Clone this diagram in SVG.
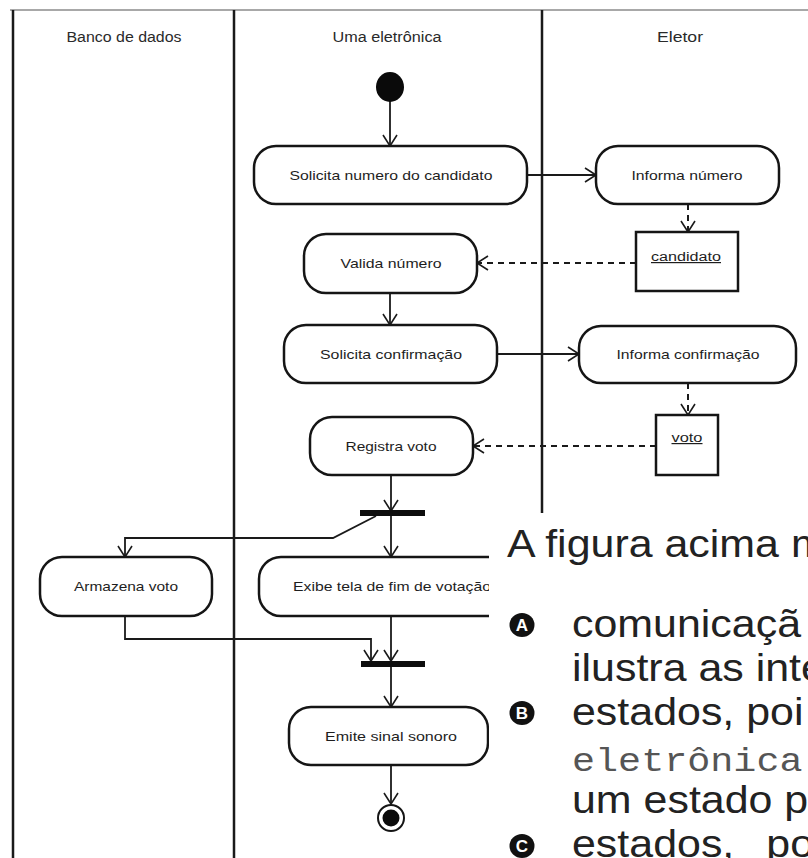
<svg xmlns="http://www.w3.org/2000/svg" width="808" height="858" viewBox="0 0 808 858">
<style>
.lane{stroke:#1a1a1a;stroke-width:2.5;fill:none}
.hdr{font-family:"Liberation Sans",Arial,sans-serif;font-size:14px;fill:#2a2a2a;text-anchor:middle;lengthAdjust:spacingAndGlyphs}
.box{fill:#fff;stroke:#151515;stroke-width:2.5}
.lbl{font-family:"Liberation Sans",Arial,sans-serif;font-size:13px;fill:#1e1e1e;text-anchor:middle}
.obj{font-family:"Liberation Sans",Arial,sans-serif;font-size:12px;fill:#1e1e1e;text-anchor:middle;text-decoration:underline}
.ln{fill:none;stroke:#1a1a1a;stroke-width:1.8;marker-end:url(#arr)}
.dash{fill:none;stroke:#1a1a1a;stroke-width:2;stroke-dasharray:6 5;marker-end:url(#arr)}
.bar{fill:#0d0d0d}
.q{font-family:"Liberation Sans",Arial,sans-serif;font-size:38px;fill:#222}
.mono{font-family:"Liberation Mono","Courier New",monospace;font-size:34px;fill:#555}
.bul{fill:#111}
.bl{font-family:"Liberation Sans",Arial,sans-serif;font-weight:bold;font-size:17px;fill:#fff;text-anchor:middle}
</style>
<defs>
<marker id="arr" markerUnits="userSpaceOnUse" markerWidth="14" markerHeight="16" refX="12" refY="8" orient="auto">
<path d="M1,1 L12,8 L1,15" fill="none" stroke="#1a1a1a" stroke-width="1.6"/>
</marker>
</defs>
<rect width="808" height="858" fill="#fff"/>
<g id="swimlanes">
<line x1="10" y1="10" x2="808" y2="10" stroke="#a8a8a8" stroke-width="2"/>
<line class="lane" x1="13" y1="10" x2="13" y2="858"/>
<line class="lane" x1="234" y1="10" x2="234" y2="858"/>
<line class="lane" x1="542" y1="10" x2="542" y2="513" stroke-width="3"/>
<text class="hdr" x="124" y="42" textLength="115" lengthAdjust="spacingAndGlyphs">Banco de dados</text>
<text class="hdr" x="387" y="42" textLength="109" lengthAdjust="spacingAndGlyphs">Uma eletrônica</text>
<text class="hdr" x="680" y="42" textLength="46" lengthAdjust="spacingAndGlyphs">Eletor</text>
</g>
<g id="connectors">
<line class="ln" x1="390" y1="101" x2="390" y2="146"/>
<line class="ln" x1="527" y1="175" x2="596" y2="175"/>
<line class="dash" x1="688" y1="204" x2="688" y2="232"/>
<line class="dash" x1="636" y1="263" x2="477" y2="263"/>
<line class="ln" x1="390" y1="293" x2="390" y2="325"/>
<line class="ln" x1="497" y1="354" x2="579" y2="354" stroke-width="2.6"/>
<line class="dash" x1="688" y1="383" x2="688" y2="415"/>
<line class="dash" x1="656" y1="446" x2="473" y2="446"/>
<line class="ln" x1="391" y1="475" x2="391" y2="511"/>
<line class="ln" x1="391" y1="516" x2="391" y2="557"/>
<polyline class="ln" points="376,516 333,538 125,538 125,557"/>
<line class="ln" x1="391" y1="616" x2="391" y2="661"/>
<polyline class="ln" points="125,616 125,639 371,639 371,661"/>
<line class="ln" x1="391" y1="667" x2="391" y2="707"/>
<line class="ln" x1="391" y1="765" x2="391" y2="804"/>
</g>
<g id="start"><ellipse cx="390" cy="87" rx="14" ry="15" fill="#0a0a0a"/></g>
<g id="n-solicita-numero">
<rect class="box" x="254" y="146" width="273" height="58" rx="22"/>
<text class="lbl" x="391" y="180" textLength="203" lengthAdjust="spacingAndGlyphs">Solicita numero do candidato</text>
</g>
<g id="n-informa-numero">
<rect class="box" x="596" y="146" width="183" height="58" rx="22"/>
<text class="lbl" x="687" y="180" textLength="111" lengthAdjust="spacingAndGlyphs">Informa número</text>
</g>
<g id="o-candidato">
<rect class="box" x="636" y="232" width="102" height="59" rx="0"/>
<text class="obj" x="686" y="261" textLength="70" lengthAdjust="spacingAndGlyphs">candidato</text>
</g>
<g id="n-valida">
<rect class="box" x="304" y="234" width="173" height="59" rx="22"/>
<text class="lbl" x="391" y="268" textLength="101" lengthAdjust="spacingAndGlyphs">Valida número</text>
</g>
<g id="n-solicita-confirmacao">
<rect class="box" x="284" y="325" width="213" height="58" rx="22"/>
<text class="lbl" x="391" y="359" textLength="142" lengthAdjust="spacingAndGlyphs">Solicita confirmação</text>
</g>
<g id="n-informa-confirmacao">
<rect class="box" x="579" y="326" width="217" height="57" rx="22"/>
<text class="lbl" x="688" y="359" textLength="143" lengthAdjust="spacingAndGlyphs">Informa confirmação</text>
</g>
<g id="o-voto">
<rect class="box" x="656" y="415" width="62" height="60" rx="0"/>
<text class="obj" x="687" y="442" textLength="31" lengthAdjust="spacingAndGlyphs">voto</text>
</g>
<g id="n-registra">
<rect class="box" x="310" y="417" width="163" height="58" rx="22"/>
<text class="lbl" x="391" y="451" textLength="91" lengthAdjust="spacingAndGlyphs">Registra voto</text>
</g>
<g id="fork"><rect class="bar" x="360" y="510" width="65" height="6"/></g>
<g id="n-armazena">
<rect class="box" x="40" y="557" width="172" height="59" rx="22"/>
<text class="lbl" x="126" y="591" textLength="104" lengthAdjust="spacingAndGlyphs">Armazena voto</text>
</g>
<g id="n-exibe">
<rect class="box" x="259" y="557" width="264" height="59" rx="22"/>
<text class="lbl" x="392" y="591" textLength="198" lengthAdjust="spacingAndGlyphs">Exibe tela de fim de votação</text>
</g>
<g id="join"><rect class="bar" x="361" y="661" width="64" height="6"/></g>
<g id="n-emite">
<rect class="box" x="289" y="707" width="199" height="58" rx="22"/>
<text class="lbl" x="391" y="741" textLength="132" lengthAdjust="spacingAndGlyphs">Emite sinal sonoro</text>
</g>
<g id="end">
<circle cx="391" cy="818" r="13" fill="#fff" stroke="#151515" stroke-width="2"/>
<circle cx="391" cy="818" r="8.5" fill="#0a0a0a"/>
</g>
<g id="question">
<rect x="489" y="513" width="319" height="345" fill="#fff"/>
<text class="q" transform="translate(507,557) scale(1.13,1)">A figura acima m</text>
<ellipse class="bul" cx="522" cy="625" rx="12.5" ry="12"/>
<text class="bl" x="522" y="631">A</text>
<text class="q" transform="translate(572,637) scale(1.13,1)">comunicaçã</text>
<text class="q" transform="translate(572,681) scale(1.13,1)">ilustra as inte</text>
<ellipse class="bul" cx="522" cy="713" rx="12.5" ry="12"/>
<text class="bl" x="522" y="719">B</text>
<text class="q" transform="translate(572,725) scale(1.13,1)">estados, poi</text>
<text class="mono" transform="translate(572,771) scale(1.13,1)">eletrônica</text>
<text class="q" transform="translate(572,813) scale(1.13,1)">um estado p</text>
<ellipse class="bul" cx="522" cy="846" rx="12.5" ry="12"/>
<text class="bl" x="522" y="852">C</text>
<text class="q" transform="translate(572,857) scale(1.13,1)">estados,<tspan x="172">po</tspan></text>
</g>
</svg>
